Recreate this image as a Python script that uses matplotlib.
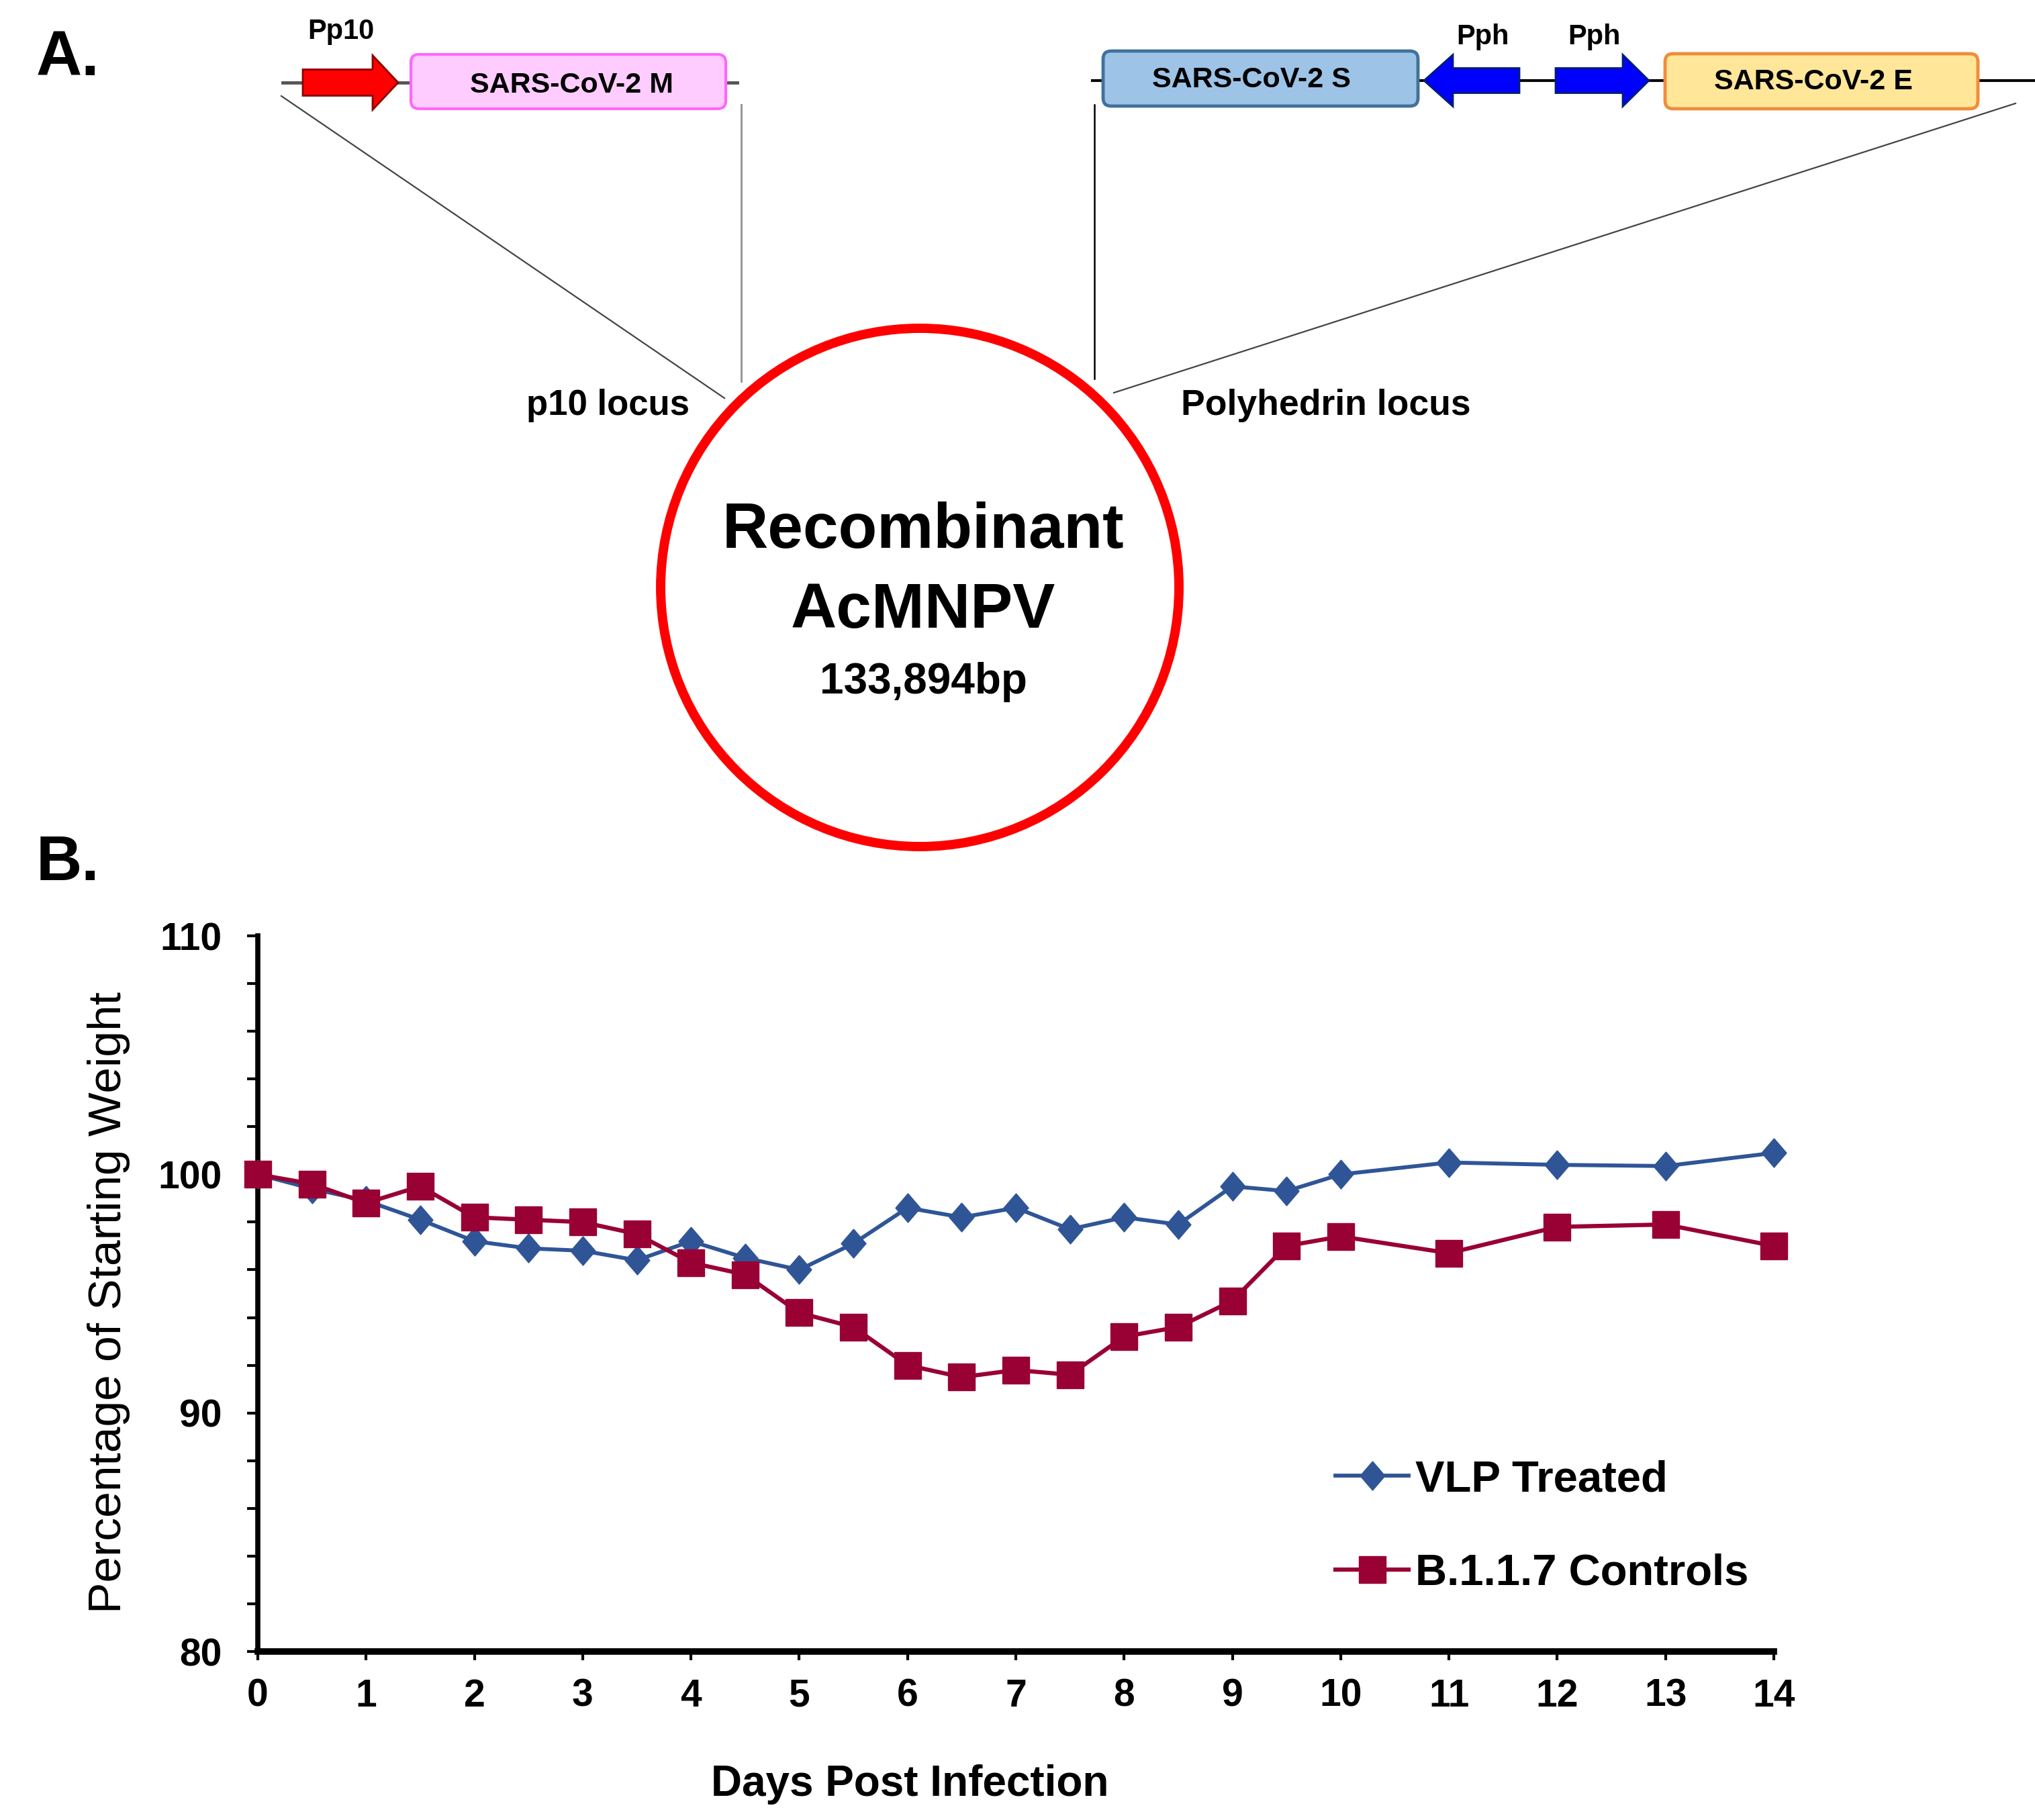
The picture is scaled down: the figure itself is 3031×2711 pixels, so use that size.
import numpy as np
import matplotlib
matplotlib.use('Agg')
import matplotlib.pyplot as plt
from matplotlib.patches import FancyBboxPatch, FancyArrow, Circle

plt.rcParams['font.family'] = ['Liberation Sans', 'DejaVu Sans']

# data: percentage of starting weight per day
days = [0, 0.5, 1, 1.5, 2, 2.5, 3, 3.5, 4, 4.5, 5, 5.5, 6, 6.5, 7, 7.5, 8, 8.5, 9, 9.5, 10, 11, 12, 13, 14]
vlp = [100, 99.4, 98.9, 98.1, 97.2, 96.9, 96.8, 96.4, 97.2, 96.5, 96.0, 97.1, 98.6, 98.2, 98.6, 97.7,
       98.2, 97.9, 99.5, 99.3, 100.0, 100.5, 100.4, 100.35, 100.9]
ctrl = [100, 99.6, 98.8, 99.5, 98.2, 98.1, 98.0, 97.5, 96.3, 95.8, 94.2, 93.6, 92.0, 91.5, 91.8, 91.6,
        93.2, 93.6, 94.7, 97.0, 97.4, 96.7, 97.8, 97.9, 97.0]
series_names = ['VLP Treated', 'B.1.1.7 Controls']
xticks = list(range(0, 15))
yticks = [80, 90, 100, 110]

W, H = 3031, 2711
fig = plt.figure(figsize=(W / 100, H / 100), dpi=100)

# panel A: construct diagram, drawn in pixel coords
ad = fig.add_axes([0, 0, 1, 1])
ad.set_xlim(0, W)
ad.set_ylim(H, 0)
ad.axis('off')

ad.text(54, 112, 'A.', fontsize=68, fontweight='bold', ha='left', va='baseline')
ad.text(54, 1311, 'B.', fontsize=68, fontweight='bold', ha='left', va='baseline')

# left construct (p10 locus)
ad.plot([421, 1098], [123, 123], color='#555555', lw=3.5, zorder=1)
ad.add_patch(FancyArrow(451, 123, 142, 0, width=39, head_width=81, head_length=38,
                        length_includes_head=True, fc='#ff0000', ec='#8b0000', lw=2, zorder=2))
ad.add_patch(FancyBboxPatch((618, 87), 457, 69, boxstyle='round,pad=6,rounding_size=12',
                            fc='#ffccff', ec='#ff66ff', lw=3, zorder=2))
ad.text(851, 127, 'SARS-CoV-2 M', fontsize=31, fontweight='bold', ha='center', va='center', zorder=3)
ad.text(508, 47, 'Pp10', fontsize=30, fontweight='bold', ha='center', va='center')
ad.plot([419, 1079], [143, 593], color='#444444', lw=1.6)
ad.plot([1104, 1104], [156, 568], color='#999999', lw=2.2)
ad.text(905, 618, 'p10 locus', fontsize=38, fontweight='bold', ha='center', va='baseline')

# right construct (polyhedrin locus)
ad.plot([1627, 3031], [120, 120], color='black', lw=3, zorder=1)
ad.add_patch(FancyBboxPatch((1649, 82), 457, 70, boxstyle='round,pad=6,rounding_size=12',
                            fc='#9dc3e6', ec='#41719c', lw=3.5, zorder=2))
ad.text(1864, 119, 'SARS-CoV-2 S', fontsize=31, fontweight='bold', ha='center', va='center', zorder=3)
ad.add_patch(FancyArrow(2263, 120, -142, 0, width=37, head_width=77, head_length=43,
                        length_includes_head=True, fc='#0000ff', ec='#001f6f', lw=2, zorder=2))
ad.add_patch(FancyArrow(2317, 120, 139, 0, width=37, head_width=77, head_length=39,
                        length_includes_head=True, fc='#0000ff', ec='#001f6f', lw=2, zorder=2))
ad.text(2209, 55, 'Pph', fontsize=30, fontweight='bold', ha='center', va='center')
ad.text(2374, 55, 'Pph', fontsize=30, fontweight='bold', ha='center', va='center')
ad.add_patch(FancyBboxPatch((2486, 86), 454, 70, boxstyle='round,pad=6,rounding_size=12',
                            fc='#ffe699', ec='#f08c3c', lw=3.5, zorder=2))
ad.text(2701, 122, 'SARS-CoV-2 E', fontsize=31, fontweight='bold', ha='center', va='center', zorder=3)
ad.plot([1630, 1630], [156, 564], color='black', lw=1.8)
ad.plot([3002, 1659], [154, 585], color='#444444', lw=1.6)
ad.text(1975, 618, 'Polyhedrin locus', fontsize=38.5, fontweight='bold', ha='center', va='baseline')

# genome circle
ad.add_patch(Circle((1370, 875), 386, fill=False, ec='#ff0000', lw=10))
ad.text(1375, 816, 'Recombinant', fontsize=68, fontweight='bold', ha='center', va='baseline')
ad.text(1375, 935, 'AcMNPV', fontsize=68, fontweight='bold', ha='center', va='baseline')
ad.text(1375, 1033, '133,894bp', fontsize=46, fontweight='bold', ha='center', va='baseline')

# panel B: weight curve
x0, x1, y0, y1 = 384, 2642, 1394, 2460
ax = fig.add_axes([x0 / W, 1 - y1 / H, (x1 - x0) / W, (y1 - y0) / H])
ax.patch.set_alpha(0)

diamond = [(0, 1), (0.86, 0), (0, -1), (-0.86, 0), (0, 1)]
ax.plot(days, vlp, color='#2f5597', lw=4.2, marker=diamond, markersize=31,
        mec='#2f5597', label=series_names[0], clip_on=False, zorder=3)
ax.plot(days, ctrl, color='#990033', lw=4.5, marker='s', markersize=29,
        mec='#990033', label=series_names[1], clip_on=False, zorder=4)

ax.set_xlim(0, 14)
ax.set_ylim(80, 110)
ax.set_xticks(xticks)
ax.set_yticks(yticks)
ax.set_yticks(np.arange(80, 111, 2), minor=True)
ax.spines['top'].set_visible(False)
ax.spines['right'].set_visible(False)
ax.spines['left'].set_linewidth(5.5)
ax.spines['bottom'].set_linewidth(7)
ax.tick_params(axis='y', which='both', direction='out', length=11.5, width=3, pad=27)
ax.tick_params(axis='x', which='both', direction='out', length=9.5, width=3, pad=19)
for lab in ax.get_xticklabels() + ax.get_yticklabels():
    lab.set_fontsize(41)
    lab.set_fontweight('bold')

ax.set_ylabel('Percentage of Starting Weight', fontsize=50)
ax.yaxis.set_label_coords(-0.0984, 0.4878)
ax.yaxis.label.set_va('center')
ax.set_xlabel('Days Post Infection', fontsize=46, fontweight='bold')
ax.xaxis.set_label_coords(0.430, -0.1855)
ax.xaxis.label.set_va('center')

leg = ax.legend(loc='upper left', bbox_to_anchor=(1989 / W, 1 - 2174 / H), bbox_transform=fig.transFigure,
                frameon=False, borderpad=0, borderaxespad=0, handlelength=1.67, handletextpad=0.15,
                labelspacing=1.22, prop={'size': 47, 'weight': 'bold'})

plt.savefig('out.png', dpi=100)
